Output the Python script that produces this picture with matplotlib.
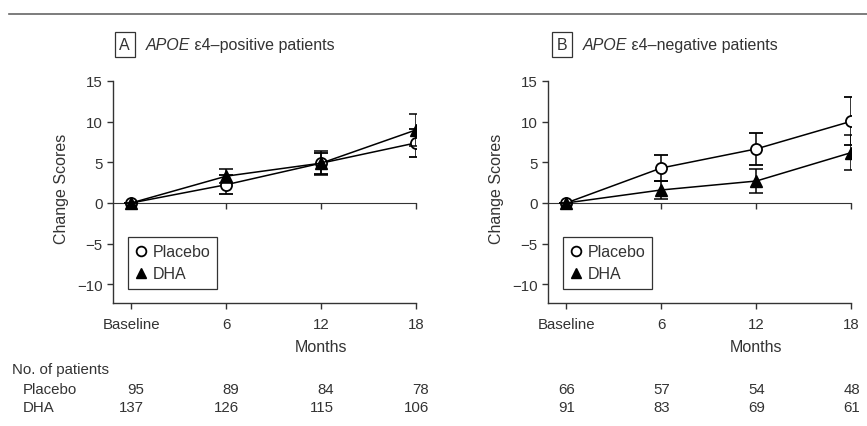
import matplotlib
matplotlib.use("Agg")
import matplotlib.pyplot as plt
from matplotlib.lines import Line2D
from matplotlib.transforms import blended_transform_factory

# months (baseline = 0)
months = [0, 6, 12, 18]
month_labels = ["Baseline", "6", "12", "18"]

# panel A: APOE e4-positive
pos_placebo = [0, 2.25, 4.9, 7.4]
pos_placebo_err = [0, 1.2, 1.3, 1.75]
pos_dha = [0, 3.3, 4.9, 9.0]
pos_dha_err = [0, 0.9, 1.45, 2.0]
pos_n_placebo = [95, 89, 84, 78]
pos_n_dha = [137, 126, 115, 106]

# panel B: APOE e4-negative
neg_placebo = [0, 4.3, 6.65, 10.05]
neg_placebo_err = [0, 1.55, 1.95, 2.95]
neg_dha = [0, 1.6, 2.7, 6.2]
neg_dha_err = [0, 1.15, 1.45, 2.15]
neg_n_placebo = [66, 57, 54, 48]
neg_n_dha = [91, 83, 69, 61]

plt.rcParams['font.family'] = ['Liberation Sans', 'DejaVu Sans']
plt.rcParams['font.size'] = 10.8
txt = '#333333'

fig = plt.figure(figsize=(8.67, 4.27), dpi=100)

# rule at the top of the page
fig.add_artist(Line2D([0.01, 1.0], [0.965, 0.965], transform=fig.transFigure,
                      color='#666666', lw=1.2))

panels = [
    (0.1303, 'A', 'ε4–positive patients', pos_placebo, pos_placebo_err, pos_dha, pos_dha_err,
     pos_n_placebo, pos_n_dha, 0.8),
    (0.632, 'B', 'ε4–negative patients', neg_placebo, neg_placebo_err, neg_dha, neg_dha_err,
     neg_n_placebo, neg_n_dha, 0.55),
]

for i, (left, letter, title, pl, pl_err, dha, dha_err, n_pl, n_dha, off) in enumerate(panels):
    ax = fig.add_axes([left, 0.288, 0.35, 0.52])
    ax.set_xlim(-1.15, 18)
    ax.set_ylim(-12.3, 15)

    ax.errorbar(months, pl, yerr=pl_err, color='black', lw=1.1, capsize=5, capthick=1.1,
                marker='o', ms=8, mfc='white', mec='black', mew=1.3, zorder=3)
    ax.errorbar(months, dha, yerr=dha_err, color='black', lw=1.1, capsize=5, capthick=1.1,
                marker='^', ms=8, mfc='black', mec='black', zorder=4)

    for s in ['top', 'right']:
        ax.spines[s].set_visible(False)
    for s in ['left', 'bottom']:
        ax.spines[s].set_color('#333333')
        ax.spines[s].set_linewidth(1.0)
    ax.set_xticks(months)
    ax.set_xticklabels(month_labels)
    ax.set_yticks([-10, -5, 0, 5, 10, 15])
    ax.set_yticklabels(['−10', '−5', '0', '5', '10', '15'])
    ax.tick_params(direction='out', length=4, width=1, colors='#333333', labelcolor=txt)
    ax.tick_params(axis='x', pad=6)

    # zero line with ticks
    zero = ax.secondary_xaxis(12.3 / 27.3)
    zero.set_xticks(months)
    zero.set_xticklabels([])
    zero.xaxis.set_ticks_position('bottom')
    zero.tick_params(direction='out', length=4, width=1, colors='#333333')
    zero.spines['bottom'].set_color('#333333')

    ax.set_ylabel('Change Scores', color=txt, fontsize=11.5)
    ax.yaxis.set_label_coords(-0.145, 0.52)

    # panel title
    box_x = left - 0.0005 + (0.0025 if i == 1 else 0)
    fig.text(box_x + 0.014, 0.894, letter, ha='center', va='center', color=txt,
             fontsize=11.5,
             bbox=dict(boxstyle='square,pad=0.3', fc='white', ec='#333333', lw=0.9))
    t1 = fig.text(box_x + 0.038, 0.894, 'APOE', style='italic', ha='left', va='center',
                  color=txt, fontsize=11.5)
    ax.annotate(' ' + title, xy=(1, 0.5), xycoords=t1, va='center', ha='left',
                color=txt, fontsize=11.5)

    handles = [Line2D([], [], ls='none', marker='o', ms=7, mfc='white', mec='black', mew=1.3),
               Line2D([], [], ls='none', marker='^', ms=7, mfc='black', mec='black')]
    leg = ax.legend(handles, ['Placebo', 'DHA'], loc='upper left',
                    bbox_to_anchor=(left + 0.017, 0.4426), bbox_transform=fig.transFigure,
                    borderaxespad=0, fancybox=False, edgecolor='#333333', framealpha=1,
                    handlelength=0.8, handletextpad=0.3, borderpad=0.45, labelspacing=0.45,
                    fontsize=11.5)
    leg.get_frame().set_linewidth(0.9)
    for t in leg.get_texts():
        t.set_color(txt)

    tr = blended_transform_factory(ax.transData, fig.transFigure)
    ax.text(12, 0.187, 'Months', transform=tr, ha='center', va='center', color=txt,
            fontsize=11.5)
    for m, a, b in zip(months, n_pl, n_dha):
        ax.text(m + off, 0.0867, str(a), transform=tr, ha='right', va='center', color=txt)
        ax.text(m + off, 0.0445, str(b), transform=tr, ha='right', va='center', color=txt)

fig.text(0.0138, 0.1335, 'No. of patients', ha='left', va='center', color=txt)
fig.text(0.0265, 0.0867, 'Placebo', ha='left', va='center', color=txt)
fig.text(0.0265, 0.0445, 'DHA', ha='left', va='center', color=txt)

fig.savefig('out.png', dpi=100)
